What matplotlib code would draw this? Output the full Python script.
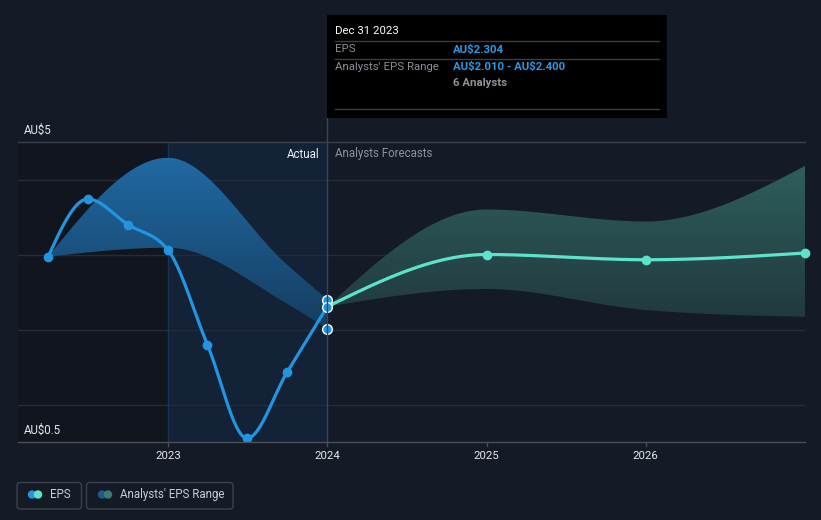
import numpy as np
import matplotlib
matplotlib.use("Agg")
import matplotlib.pyplot as plt
from matplotlib.patches import FancyBboxPatch, Rectangle, Circle
from matplotlib.lines import Line2D

plt.rcParams['font.family'] = ['Roboto', 'DejaVu Sans']

# ---------------- data ----------------
actual_x = [2022.247, 2022.496, 2022.748, 2023.0, 2023.247, 2023.496, 2023.748, 2024.0]
actual_eps = [2.97, 3.74, 3.40, 3.06, 1.80, 0.55, 1.43, 2.304]

actual_band_x = [2022.247, 2023.0, 2023.75, 2024.0]
actual_band_hi = [2.97, 4.29, 2.86, 2.40]
actual_band_lo = [2.97, 3.09, 2.34, 2.01]

fc_x = [2024.0, 2025.0, 2026.0, 2027.0]
fc_eps = [2.304, 3.00, 2.93, 3.02]
fc_hi = [2.304, 3.60, 3.44, 4.18]
fc_lo = [2.304, 2.54, 2.26, 2.17]

range_pts_2024 = [2.40, 2.304, 2.01]

year_ticks = [2023, 2024, 2025, 2026]
year_labels = ["2023", "2024", "2025", "2026"]
y_grid = [1, 2, 3, 4]

tooltip_date = "Dec 31 2023"
tooltip_eps = "AU$2.304"
tooltip_range = "AU$2.010 - AU$2.400"
tooltip_analysts = "6 Analysts"

# ---------------- helpers ----------------
def monotone(x, y, n=300):
    x = np.asarray(x, float); y = np.asarray(y, float)
    h = np.diff(x); s = np.diff(y) / h
    m = np.zeros(len(x))
    for i in range(1, len(x) - 1):
        if s[i - 1] * s[i] <= 0:
            m[i] = 0.0
        else:
            p = (s[i - 1] * h[i] + s[i] * h[i - 1]) / (h[i - 1] + h[i])
            m[i] = (np.sign(s[i - 1]) + np.sign(s[i])) * min(abs(s[i - 1]), abs(s[i]), 0.5 * abs(p))
    if len(x) > 2:
        m[0] = (3 * s[0] - m[1]) / 2
        m[-1] = (3 * s[-1] - m[-2]) / 2
    else:
        m[:] = s[0]
    xs, ys = [], []
    for i in range(len(x) - 1):
        t = np.linspace(0, 1, n)
        h00 = 2 * t**3 - 3 * t**2 + 1
        h10 = t**3 - 2 * t**2 + t
        h01 = -2 * t**3 + 3 * t**2
        h11 = t**3 - t**2
        xs.append(x[i] + t * h[i])
        ys.append(h00 * y[i] + h10 * h[i] * m[i] + h01 * y[i + 1] + h11 * h[i] * m[i + 1])
    return np.concatenate(xs), np.concatenate(ys)


def grad_band(ax, bx, lo, hi, c_top, c_bot, z):
    xx, yh = monotone(bx, hi)
    _, yl = monotone(bx, lo)
    poly = ax.fill_between(xx, yl, yh, facecolor='none', edgecolor='none', zorder=z)
    top = np.array(matplotlib.colors.to_rgb(c_top))
    bot = np.array(matplotlib.colors.to_rgb(c_bot))
    y0, y1 = yl.min(), yh.max()
    g = np.linspace(1, 0, 256)[:, None, None]
    img = bot + (top - bot) * g
    img = np.repeat(img, 2, axis=1)
    im = ax.imshow(img, extent=[xx.min(), xx.max(), y0, y1], aspect='auto',
                   origin='upper', zorder=z, interpolation='bilinear')
    im.set_clip_path(poly.get_paths()[0], transform=ax.transData)


BG = '#151b26'
W, H = 821, 520
fig = plt.figure(figsize=(W / 100, H / 100), dpi=100, facecolor=BG)

# plot area in pixels: x 18..805, y 142..442
L, R, T, B = 18, 805, 142, 442
ax = fig.add_axes([L / W, 1 - B / H, (R - L) / W, (B - T) / H])
ax.set_facecolor(BG)
ax.set_xlim(2022.058, 2027.0)
ax.set_ylim(0.5, 4.5)
for s in ax.spines.values():
    s.set_visible(False)
ax.set_xticks([]); ax.set_yticks([])

# background regions
ax.axvspan(2022.058, 2023.0, color='#11161e', zorder=0, lw=0)
ax.axvspan(2023.0, 2024.0, color='#132237', zorder=0, lw=0)

for g in y_grid:
    ax.axhline(g, color='#252c38', lw=1, zorder=1)
ax.axvline(2023.0, color='#1a3350', lw=1, zorder=1)

# bands
grad_band(ax, actual_band_x, actual_band_lo, actual_band_hi, '#2069a3', '#163d60', 2)
grad_band(ax, fc_x, fc_lo, fc_hi, '#2f5e5d', '#213a3f', 2)

# lines
ex, ey = monotone(actual_x, actual_eps)
ax.plot(ex, ey, color='#2394df', lw=2.3, zorder=4, solid_capstyle='round')
ax.plot(actual_x[:-1], actual_eps[:-1], 'o', color='#2394df', ms=6, zorder=5)

fx, fy = monotone(fc_x, fc_eps)
ax.plot(fx, fy, color='#5de3cb', lw=2.3, zorder=4, clip_on=False)
ax.plot(fc_x[1:], fc_eps[1:], 'o', color='#5de3cb', ms=6, zorder=5, clip_on=False)

ax.plot([2024.0] * len(range_pts_2024), range_pts_2024, 'o', color='#2394df',
        mec='white', mew=1, ms=7, zorder=6, clip_on=False)

# ---------------- overlay (pixel coords) ----------------
ov = fig.add_axes([0, 0, 1, 1], zorder=10)
ov.set_xlim(0, W); ov.set_ylim(H, 0)
ov.axis('off')
ov.patch.set_alpha(0)

def txt(x, y, s, **kw):
    kw.setdefault('va', 'center')
    kw.setdefault('ha', 'left')
    return ov.text(x, y, s, parse_math=False, **kw)

# top and bottom lines
ov.add_line(Line2D([L, R], [T, T], color='#3b414c', lw=1))
ov.add_line(Line2D([L, R], [B, B], color='#4a505b', lw=1))

# x ticks and labels
xmin, xmax = ax.get_xlim()
def xpx(v):
    return L + (v - xmin) / (xmax - xmin) * (R - L)
for v, lab in zip(year_ticks, year_labels):
    px = xpx(v)
    ov.add_line(Line2D([px, px], [B, B + 4], color='#4a505b', lw=1))
    txt(px, 456, lab, color='#e6e8eb', fontsize=8.2, ha='center')

# y labels
txt(24, 130, "AU$5", color='#e6e8eb', fontsize=8.3)
txt(24, 430, "AU$0.5", color='#e6e8eb', fontsize=8.3)

# Actual / Forecast labels
txt(319, 154, "Actual", color='#eef0f2', fontsize=8.3, ha='right')
txt(335, 154, "Analysts Forecasts", color='#8e939b', fontsize=8.3)

# vertical marker line at 2024
x24 = xpx(2024.0)
ov.add_line(Line2D([x24, x24], [117, B], color='#2b4866', lw=1, zorder=1))

# tooltip
ov.add_patch(Rectangle((327, 15), 340, 103, facecolor='#000000', edgecolor='none', zorder=2))
for yy in [41, 58.5, 109]:
    ov.add_line(Line2D([335, 659], [yy, yy], color='#3a3d42', lw=1, zorder=3))
txt(335, 31, tooltip_date, color='#ffffff', fontsize=8.2, zorder=4)
txt(335, 49.5, "EPS", color='#8a8f97', fontsize=8.2, zorder=4)
txt(453, 49.5, tooltip_eps, color='#2e97e6', fontsize=8.2, fontweight='bold', zorder=4)
txt(335, 66.5, "Analysts' EPS Range", color='#8a8f97', fontsize=8.2, zorder=4)
txt(453, 66.5, tooltip_range, color='#2e97e6', fontsize=8.2, fontweight='bold', zorder=4)
txt(453, 83.5, tooltip_analysts, color='#8f9296', fontsize=8.2, fontweight='bold', zorder=4)

# legend
ov.add_patch(FancyBboxPatch((17, 482.5), 64.5, 26.5, boxstyle="round,pad=0,rounding_size=3",
                            facecolor='none', edgecolor='#3c424d', lw=1))
ov.add_patch(FancyBboxPatch((86.5, 482.5), 146.5, 26.5, boxstyle="round,pad=0,rounding_size=3",
                            facecolor='none', edgecolor='#3c424d', lw=1))
ov.add_patch(Circle((32, 494.5), 4.2, facecolor='#2394df', edgecolor='none'))
ov.add_patch(Circle((38, 494.5), 4.2, facecolor='#5de3cb', edgecolor='none'))
txt(50, 494.5, "EPS", color='#c9cdd3', fontsize=8.3)
ov.add_patch(Circle((102, 494.5), 4.2, facecolor='#1f5a8c', edgecolor='none'))
ov.add_patch(Circle((108, 494.5), 4.2, facecolor='#3a7a77', edgecolor='none'))
txt(120, 494.5, "Analysts' EPS Range", color='#c9cdd3', fontsize=8.3)

fig.savefig("out.png", dpi=100, facecolor=BG)
